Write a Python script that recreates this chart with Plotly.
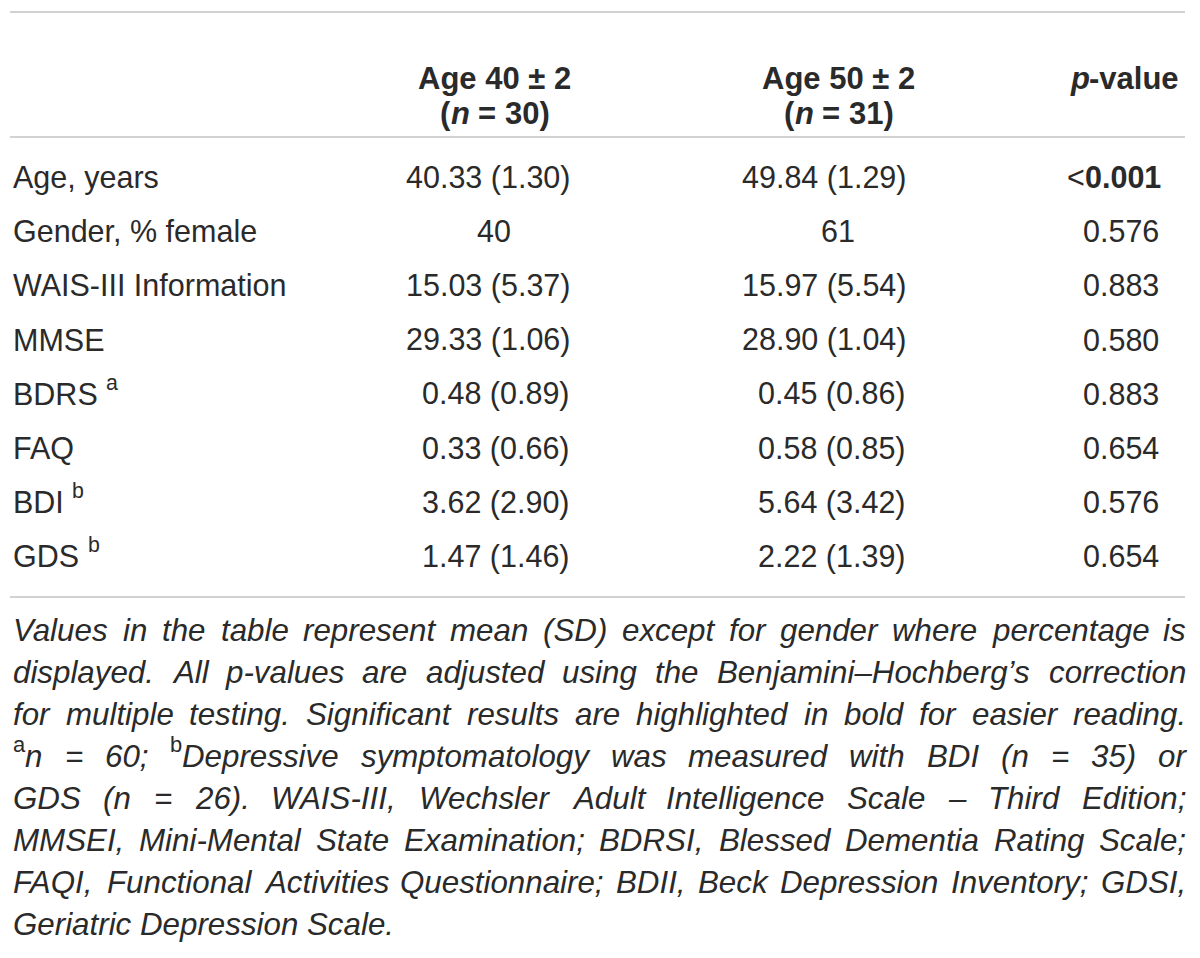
import re
import plotly.graph_objects as go

# ---- data ----
row_labels = ["Age, years", "Gender, % female", "WAIS-III Information", "MMSE",
              "BDRS <sup>a</sup>", "FAQ", "BDI <sup>b</sup>", "GDS <sup>b</sup>"]
age40 = ["40.33 (1.30)", "40", "15.03 (5.37)", "29.33 (1.06)",
         "0.48 (0.89)", "0.33 (0.66)", "3.62 (2.90)", "1.47 (1.46)"]
age50 = ["49.84 (1.29)", "61", "15.97 (5.54)", "28.90 (1.04)",
         "0.45 (0.86)", "0.58 (0.85)", "5.64 (3.42)", "2.22 (1.39)"]
pvals = ["&lt;<b>0.001</b>", "0.576", "0.883", "0.580", "0.883", "0.654", "0.576", "0.654"]

header_40 = ["Age 40 ± 2", "(<i>n</i> = 30)"]
header_50 = ["Age 50 ± 2", "(<i>n</i> = 31)"]
header_p = "<i>p</i>-value"

footnote_lines = [
    "Values in the table represent mean (SD) except for gender where percentage is",
    "displayed. All p-values are adjusted using the Benjamini–Hochberg’s correction",
    "for multiple testing. Significant results are highlighted in bold for easier reading.",
    "<sup>a</sup>n = 60; <sup>b</sup>Depressive symptomatology was measured with BDI (n = 35) or",
    "GDS (n = 26). WAIS-III, Wechsler Adult Intelligence Scale – Third Edition;",
    "MMSEI, Mini-Mental State Examination; BDRSI, Blessed Dementia Rating Scale;",
    "FAQI, Functional Activities Questionnaire; BDII, Beck Depression Inventory; GDSI,",
    "Geriatric Depression Scale.",
]

# ---- layout constants ----
W, H = 1200, 958
OFF = 8  # page body margin
TXT = "#2a2a2a"
LINE = "#d2d2d2"
FONT = "Liberation Sans"
BODY = 30.5
HEAD = 31
FOOT = 31.3
SUP = 0.7

x_label = 12
x_right_edge = 1185
x40_right, x40_center = 571, 494
x50_right, x50_center = 907, 838
xp_right = 1160
xp_head_right = 1178
row_y0, row_step = 177, 54.2
head_y = [78, 113]
foot_y0, foot_step = 630, 42

# Helvetica / Arial advance widths (per 1000 em)
_W = {" ": 278, "!": 278, "%": 889, "(": 333, ")": 333, ",": 278, "-": 333, ".": 278,
      "/": 278, ":": 278, ";": 278, "=": 584, "<": 584, "±": 584, "–": 556, "’": 222,
      "A": 667, "B": 667, "C": 722, "D": 722, "E": 667, "F": 611, "G": 778, "H": 722,
      "I": 278, "J": 500, "K": 667, "L": 556, "M": 833, "N": 722, "O": 778, "P": 667,
      "Q": 778, "R": 722, "S": 667, "T": 611, "U": 722, "V": 667, "W": 944, "X": 667,
      "Y": 667, "Z": 611, "a": 556, "b": 556, "c": 500, "d": 556, "e": 556, "f": 278,
      "g": 556, "h": 556, "i": 222, "j": 222, "k": 500, "l": 222, "m": 833, "n": 556,
      "o": 556, "p": 556, "q": 556, "r": 333, "s": 500, "t": 278, "u": 556, "v": 500,
      "w": 722, "x": 500, "y": 500, "z": 500}
_WB = dict(_W)
_WB.update({"A": 722, "a": 556, "e": 556, "g": 611, "l": 278, "n": 611, "p": 611,
            "u": 611, "v": 556, "i": 278, "(": 333, ")": 333})
for _d in "0123456789":
    _W[_d] = 556
    _WB[_d] = 556


def parse_runs(s, bold=False, italic=False):
    """Split mini-markup into plain runs: (text, bold, italic, sup)."""
    runs, b, it, sup = [], bold, italic, False
    for tok in re.split(r"(</?b>|</?i>|</?sup>)", s):
        if tok in ("<b>", "</b>"):
            b = (tok == "<b>") or bold
        elif tok in ("<i>", "</i>"):
            it = (tok == "<i>") or italic
        elif tok in ("<sup>", "</sup>"):
            sup = tok == "<sup>"
        elif tok:
            for piece in re.split(r"( )", tok.replace("&lt;", "<")):
                if piece:
                    # superscript footnote marks are set upright
                    runs.append((piece, b, it and not sup, sup))
    return runs


def run_width(run, size):
    text, b, it, sup = run
    table = _WB if b else _W
    return sum(table.get(c, 556) for c in text) * size * (SUP if sup else 1) / 1000.0


fig = go.Figure()
fig.add_trace(go.Scatter(x=[0, W], y=[0, H], mode="markers",
                         marker=dict(opacity=0), hoverinfo="skip", showlegend=False))

ann = []
def add(text, x, y, anchor, size=BODY, weight="normal", style="normal"):
    ann.append(dict(text=text, x=x, y=y, xref="x", yref="y", xanchor=anchor,
                    yanchor="middle", showarrow=False, borderpad=0,
                    font=dict(family=FONT, size=size, color=TXT,
                              weight=weight, style=style)))


def place_runs(runs, x, y, size):
    for text, b, it, sup in runs:
        wd = run_width((text, b, it, sup), size)
        if text != " ":
            add(text, x, y - (0.36 * size if sup else 0), "left",
                size=size * (SUP if sup else 1),
                weight="bold" if b else "normal", style="italic" if it else "normal")
        x += wd
    return x


def add_rich(s, x, y, anchor, size=BODY, bold=False, italic=False):
    if "<" not in s and "&" not in s:
        add(s, x, y, anchor, size=size, weight="bold" if bold else "normal",
            style="italic" if italic else "normal")
        return
    runs = parse_runs(s, bold, italic)
    total = sum(run_width(r, size) for r in runs)
    if anchor == "right":
        x0 = x - total
    elif anchor == "center":
        x0 = x - total / 2
    else:
        x0 = x
    place_runs(runs, x0, y, size)


for i, t in enumerate(header_40):
    add_rich(t, x40_center, head_y[i], "center", size=HEAD, bold=True)
for i, t in enumerate(header_50):
    add_rich(t, x50_center, head_y[i], "center", size=HEAD, bold=True)
add_rich(header_p, xp_head_right, head_y[0], "right", size=HEAD, bold=True)

for i in range(len(row_labels)):
    y = row_y0 + i * row_step
    add_rich(row_labels[i], x_label, y, "left")
    if "(" in age40[i]:
        add(age40[i], x40_right, y, "right")
    else:
        add(age40[i], x40_center, y, "center")
    if "(" in age50[i]:
        add(age50[i], x50_right, y, "right")
    else:
        add(age50[i], x50_center, y, "center")
    add_rich(pvals[i], xp_right, y, "right")

# justified note: every line but the last is spread to the full width
for i, line in enumerate(footnote_lines):
    y = foot_y0 + i * foot_step
    words = line.split(" ")
    word_runs = [parse_runs(w, italic=True) for w in words]
    widths = [sum(run_width(r, FOOT) for r in wr) for wr in word_runs]
    if i == len(footnote_lines) - 1:
        gap = _W[" "] * FOOT / 1000.0
    else:
        gap = (x_right_edge - x_label - sum(widths)) / (len(words) - 1)
    x = x_label
    for wr, wd in zip(word_runs, widths):
        place_runs(wr, x, y, FOOT)
        x += wd + gap

shapes = []
for yl in [12, 137, 597]:
    shapes.append(dict(type="line", xref="x", yref="y", x0=10, x1=1185, y0=yl, y1=yl,
                       line=dict(color=LINE, width=2)))

fig.update_layout(
    width=W, height=H, margin=dict(l=0, r=0, t=0, b=0),
    paper_bgcolor="white", plot_bgcolor="white",
    xaxis=dict(range=[OFF, W + OFF], visible=False, fixedrange=True),
    yaxis=dict(range=[H + OFF, OFF], visible=False, fixedrange=True),
    annotations=ann, shapes=shapes, showlegend=False,
)
fig.write_html("out.html")
